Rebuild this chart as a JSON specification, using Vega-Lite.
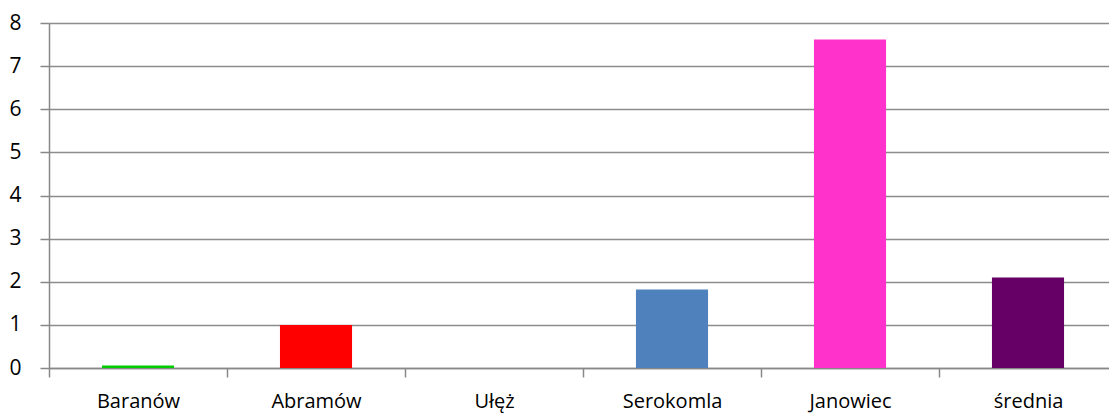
{
  "$schema": "https://vega.github.io/schema/vega-lite/v6.json",
  "autosize": {"type": "none"},
  "width": 1060,
  "height": 345,
  "padding": {"left": 49, "top": 23, "right": 0, "bottom": 46},
  "background": "white",
  "config": {"view": {"stroke": null}},
  "data": {"values": [
    {"gmina": "Baranów", "wartosc": 0.06, "kolor": "#00CC00"},
    {"gmina": "Abramów", "wartosc": 1.0, "kolor": "#FF0000"},
    {"gmina": "Ułęż", "wartosc": 0, "kolor": "#FFFFFF"},
    {"gmina": "Serokomla", "wartosc": 1.82, "kolor": "#4F81BD"},
    {"gmina": "Janowiec", "wartosc": 7.62, "kolor": "#FF33CC"},
    {"gmina": "średnia", "wartosc": 2.1, "kolor": "#660066"}
  ]},
  "mark": {"type": "bar", "width": {"band": 0.405}},
  "encoding": {
    "x": {
      "field": "gmina", "type": "nominal", "sort": null,
      "scale": {"range": [0, 1068], "paddingInner": 0, "paddingOuter": 0},
      "axis": {
        "title": null, "labelAngle": 0, "tickBand": "extent", "grid": false,
        "domainColor": "#888888", "domainWidth": 1.5, "tickColor": "#888888", "tickWidth": 1.5, "tickSize": 9,
        "labelFont": "Open Sans", "labelFontSize": 20, "labelColor": "#000000",
        "labelBaseline": "alphabetic", "labelPadding": 30
      }
    },
    "y": {
      "field": "wartosc", "type": "quantitative",
      "scale": {"domain": [0, 8], "nice": false},
      "axis": {
        "title": null, "values": [0,1,2,3,4,5,6,7,8], "grid": true,
        "gridColor": "#8C8C8C", "gridWidth": 1.5,
        "domainColor": "#888888", "domainWidth": 1.5, "tickColor": "#888888", "tickWidth": 1.5, "tickSize": 9,
        "labelFont": "Open Sans", "labelFontSize": 21, "labelColor": "#000000", "labelPadding": 19
      }
    },
    "color": {"field": "kolor", "type": "nominal", "scale": null, "legend": null}
  }
}
